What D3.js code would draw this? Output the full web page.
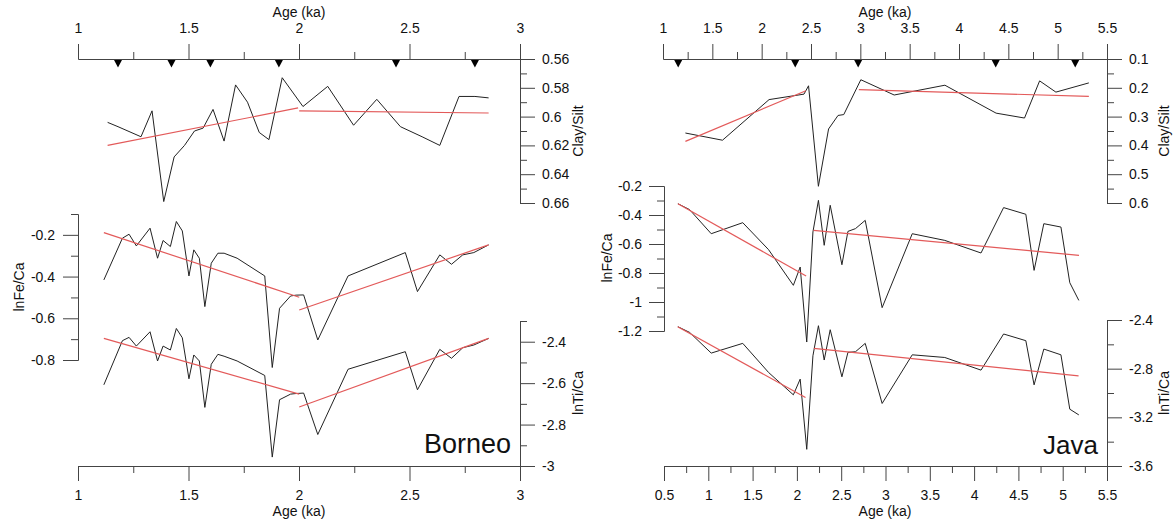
<!DOCTYPE html>
<html>
<head>
<meta charset="utf-8">
<script src="https://cdn.jsdelivr.net/npm/d3@7"></script>
<style>
  body { margin: 0; background: #fff; }
  text { font-family: Arial, "Liberation Sans", sans-serif; }
</style>
</head>
<body>
<script>
// taille du svg
const largeur = 1174;
const hauteur = 522;

// ---- Borneo ----
const borneoClayAge = [1.134, 1.181, 1.285, 1.335, 1.388, 1.435, 1.482, 1.527, 1.566, 1.611, 1.661, 1.713, 1.767,
  1.820, 1.864, 1.924, 2.018, 2.130, 2.247, 2.352, 2.459, 2.557, 2.637, 2.724, 2.796, 2.858];
const borneoClay = [0.604, 0.607, 0.614, 0.596, 0.659, 0.628, 0.620, 0.610, 0.608, 0.595, 0.617, 0.578, 0.590,
  0.611, 0.616, 0.573, 0.593, 0.579, 0.606, 0.588, 0.607, 0.614, 0.620, 0.586, 0.586, 0.587];

// Fe/Ca et Ti/Ca : memes echantillons
const borneoAge = [1.117, 1.201, 1.231, 1.264, 1.326, 1.360, 1.385, 1.418, 1.445, 1.472, 1.502, 1.524, 1.549,
  1.574, 1.603, 1.633, 1.661, 1.720, 1.845, 1.879, 1.912, 1.962, 1.987, 2.021, 2.085, 2.222, 2.481, 2.536,
  2.637, 2.690, 2.741, 2.791, 2.858];
const borneoFe = [-0.416, -0.216, -0.197, -0.253, -0.168, -0.312, -0.227, -0.256, -0.136, -0.181, -0.397, -0.272,
  -0.312, -0.544, -0.336, -0.288, -0.288, -0.312, -0.397, -0.836, -0.552, -0.493, -0.489, -0.488, -0.704,
  -0.397, -0.285, -0.472, -0.296, -0.341, -0.296, -0.285, -0.248];
const borneoTi = [-2.608, -2.395, -2.379, -2.421, -2.352, -2.493, -2.421, -2.440, -2.336, -2.381, -2.579, -2.464,
  -2.493, -2.717, -2.509, -2.461, -2.470, -2.493, -2.563, -2.957, -2.680, -2.653, -2.650, -2.648, -2.848,
  -2.533, -2.448, -2.632, -2.437, -2.480, -2.429, -2.416, -2.384];

// tendances (deux segments chacune)
const borneoClayTrendAge = [[1.134, 1.996], [2.001, 2.858]];
const borneoClayTrend = [[0.620, 0.594], [0.596, 0.5975]];
const borneoFeTrendAge = [[1.117, 2.001], [2.001, 2.858]];
const borneoFeTrend = [[-0.189, -0.499], [-0.560, -0.248]];
const borneoTiTrendAge = [[1.117, 2.001], [2.001, 2.858]];
const borneoTiTrend = [[-2.384, -2.653], [-2.715, -2.384]];

const borneoMarks = [1.181, 1.423, 1.599, 1.909, 2.439, 2.796];

// ---- Java ----
const javaClayAge = [1.227, 1.603, 2.075, 2.429, 2.475, 2.575, 2.678, 2.774, 2.832, 3.005, 3.343, 3.857, 4.376,
  4.664, 4.817, 4.982, 5.316];
const javaClay = [0.357, 0.382, 0.241, 0.222, 0.193, 0.542, 0.343, 0.296, 0.293, 0.172, 0.225, 0.191, 0.288,
  0.305, 0.176, 0.215, 0.183];

const javaAge = [0.657, 0.789, 1.033, 1.389, 1.680, 1.960, 2.037, 2.111, 2.181, 2.243, 2.308, 2.376, 2.508, 2.576,
  2.661, 2.771, 2.962, 3.302, 3.669, 4.078, 4.333, 4.584, 4.677, 4.787, 4.980, 5.080, 5.182];
const javaFe = [-0.322, -0.363, -0.529, -0.453, -0.639, -0.885, -0.759, -1.276, -0.517, -0.299, -0.609, -0.333,
  -0.743, -0.513, -0.494, -0.437, -1.039, -0.529, -0.575, -0.662, -0.349, -0.395, -0.782, -0.460, -0.483,
  -0.867, -0.989];
const javaTi = [-2.455, -2.502, -2.672, -2.592, -2.831, -3.015, -2.886, -3.463, -2.694, -2.447, -2.729, -2.480,
  -2.867, -2.666, -2.661, -2.592, -3.086, -2.686, -2.708, -2.812, -2.515, -2.570, -2.933, -2.639, -2.686,
  -3.133, -3.180];

const javaClayTrendAge = [[1.227, 2.448], [2.985, 5.316]];
const javaClayTrend = [[0.386, 0.210], [0.206, 0.230]];
const javaFeTrendAge = [[0.657, 2.104], [2.188, 5.184]];
const javaFeTrend = [[-0.322, -0.821], [-0.506, -0.678]];
const javaTiTrendAge = [[0.654, 2.097], [2.191, 5.179]];
const javaTiTrend = [[-2.455, -3.037], [-2.633, -2.859]];

const javaMarks = [1.154, 2.340, 2.978, 4.372, 5.178];

// ---- graduations ----
const borneoAgeTicks = [1, 1.5, 2, 2.5, 3];
const borneoAgeMinor = [1.25, 1.75, 2.25, 2.75];
const borneoClayTicks = [0.56, 0.58, 0.6, 0.62, 0.64, 0.66];
const borneoClayMinor = [0.57, 0.59, 0.61, 0.63, 0.65];
const borneoFeTicks = [-0.2, -0.4, -0.6, -0.8];
const borneoFeMinor = [-0.1, -0.3, -0.5, -0.7];
const borneoTiTicks = [-2.4, -2.6, -2.8, -3];
const borneoTiMinor = [-2.3, -2.5, -2.7, -2.9];

const javaTopTicks = [1, 1.5, 2, 2.5, 3, 3.5, 4, 4.5, 5, 5.5];
const javaTopMinor = [1.25, 1.75, 2.25, 2.75, 3.25, 3.75, 4.25, 4.75, 5.25];
const javaBottomTicks = [0.5, 1, 1.5, 2, 2.5, 3, 3.5, 4, 4.5, 5, 5.5];
const javaBottomMinor = [0.75, 1.25, 1.75, 2.25, 2.75, 3.25, 3.75, 4.25, 4.75, 5.25];
const javaClayTicks = [0.1, 0.2, 0.3, 0.4, 0.5, 0.6];
const javaClayMinor = [0.15, 0.25, 0.35, 0.45, 0.55];
const javaFeTicks = [-0.2, -0.4, -0.6, -0.8, -1, -1.2];
const javaFeMinor = [-0.3, -0.5, -0.7, -0.9, -1.1];
const javaTiTicks = [-2.4, -2.8, -3.2, -3.6];
const javaTiMinor = [-2.6, -3.0, -3.4];

const couleurAxe = "#444";
const couleurTrend = "#e35a5a";

const svg = d3.select("body").append("svg")
    .attr("width", largeur)
    .attr("height", hauteur);

// axe avec grandes et petites graduations
function dessinerAxe(x, y, scale, orient, major, minor, pad) {
    const make = { top: d3.axisTop, bottom: d3.axisBottom, left: d3.axisLeft, right: d3.axisRight }[orient];
    const g = svg.append("g").attr("transform", `translate(${x},${y})`);
    g.append("g").call(make(scale).tickValues(minor).tickSize(7).tickSizeOuter(0).tickFormat(""));
    g.append("g").call(make(scale).tickValues(major).tickSize(15).tickSizeOuter(0).tickPadding(pad)
        .tickFormat(d => String(d)));
    g.selectAll("path, line").attr("stroke", couleurAxe);
    g.selectAll("g").attr("font-family", null).attr("font-size", null);
    g.selectAll("text").attr("font-size", 14).attr("fill", "#111");
}

function titre(x, y, txt, rot) {
    svg.append("text")
        .attr("transform", `translate(${x},${y})` + (rot ? " rotate(-90)" : ""))
        .attr("text-anchor", "middle")
        .attr("font-size", 14)
        .attr("fill", "#111")
        .text(txt);
}

function serie(xs, ys, ages, vals, couleur, epaisseur) {
    const pts = ages.map((a, i) => [xs(a), ys(vals[i])]);
    svg.append("path")
        .attr("d", d3.line()(pts))
        .attr("fill", "none")
        .attr("stroke", couleur)
        .attr("stroke-width", epaisseur)
        .attr("stroke-linejoin", "round");
}

function tendances(xs, ys, ages, vals) {
    ages.forEach((a, i) => serie(xs, ys, a, vals[i], couleurTrend, 1.2));
}

function triangles(xs, ages, y) {
    svg.selectAll(null).data(ages).enter().append("path")
        .attr("d", d => `M${xs(d) - 4},${y} L${xs(d) + 4},${y} L${xs(d)},${y + 7.5} Z`)
        .attr("fill", "#000");
}

// ---------------- Borneo ----------------
const bxTop = d3.scaleLinear().domain([1, 3]).range([78, 520]);
const bxBot = d3.scaleLinear().domain([1, 3]).range([78, 520]);
const byClay = d3.scaleLinear().domain([0.56, 0.66]).range([0, 144]);
const byFe = d3.scaleLinear().domain([-0.1, -0.8]).range([0, 146]);
const byTi = d3.scaleLinear().domain([-2.3, -3]).range([0, 145]);

dessinerAxe(0, 59, bxTop, "top", borneoAgeTicks, borneoAgeMinor, 11);
dessinerAxe(520, 59, byClay, "right", borneoClayTicks, borneoClayMinor, 7);
dessinerAxe(78, 214, byFe, "left", borneoFeTicks, borneoFeMinor, 8);
dessinerAxe(520, 321, byTi, "right", borneoTiTicks, borneoTiMinor, 7);
dessinerAxe(0, 466, bxBot, "bottom", borneoAgeTicks, borneoAgeMinor, 9);

const byClayA = v => 59 + byClay(v);
const byFeA = v => 214 + byFe(v);
const byTiA = v => 321 + byTi(v);

triangles(bxTop, borneoMarks, 60);
serie(bxTop, byClayA, borneoClayAge, borneoClay, "#222", 1);
tendances(bxTop, byClayA, borneoClayTrendAge, borneoClayTrend);
serie(bxBot, byFeA, borneoAge, borneoFe, "#222", 1);
tendances(bxBot, byFeA, borneoFeTrendAge, borneoFeTrend);
serie(bxBot, byTiA, borneoAge, borneoTi, "#222", 1);
tendances(bxBot, byTiA, borneoTiTrendAge, borneoTiTrend);

titre(299, 17, "Age (ka)");
titre(299, 516, "Age (ka)");
titre(24, 287, "lnFe/Ca", true);
titre(583, 131, "Clay/Silt", true);
titre(583, 393, "lnTi/Ca", true);
svg.append("text").attr("x", 511).attr("y", 453).attr("text-anchor", "end")
    .attr("font-size", 27).attr("fill", "#111").text("Borneo");

// ---------------- Java ----------------
const jxTop = d3.scaleLinear().domain([1, 5.5]).range([663, 1107]);
const jxBot = d3.scaleLinear().domain([0.5, 5.5]).range([664, 1107]);
const jyClay = d3.scaleLinear().domain([0.1, 0.6]).range([0, 144]);
const jyFe = d3.scaleLinear().domain([-0.2, -1.2]).range([0, 145]);
const jyTi = d3.scaleLinear().domain([-2.4, -3.6]).range([0, 146]);

dessinerAxe(0, 59, jxTop, "top", javaTopTicks, javaTopMinor, 11);
dessinerAxe(1107, 59, jyClay, "right", javaClayTicks, javaClayMinor, 7);
dessinerAxe(664, 186, jyFe, "left", javaFeTicks, javaFeMinor, 7);
dessinerAxe(1107, 320, jyTi, "right", javaTiTicks, javaTiMinor, 7);
dessinerAxe(0, 466, jxBot, "bottom", javaBottomTicks, javaBottomMinor, 9);

const jyClayA = v => 59 + jyClay(v);
const jyFeA = v => 186 + jyFe(v);
const jyTiA = v => 320 + jyTi(v);

triangles(jxTop, javaMarks, 60);
serie(jxTop, jyClayA, javaClayAge, javaClay, "#222", 1);
tendances(jxTop, jyClayA, javaClayTrendAge, javaClayTrend);
serie(jxBot, jyFeA, javaAge, javaFe, "#222", 1);
tendances(jxBot, jyFeA, javaFeTrendAge, javaFeTrend);
serie(jxBot, jyTiA, javaAge, javaTi, "#222", 1);
tendances(jxBot, jyTiA, javaTiTrendAge, javaTiTrend);

titre(885, 17, "Age (ka)");
titre(885, 516, "Age (ka)");
titre(612, 258, "lnFe/Ca", true);
titre(1169, 131, "Clay/Silt", true);
titre(1169, 393, "lnTi/Ca", true);
svg.append("text").attr("x", 1098).attr("y", 454).attr("text-anchor", "end")
    .attr("font-size", 26).attr("fill", "#111").text("Java");
</script>
</body>
</html>
